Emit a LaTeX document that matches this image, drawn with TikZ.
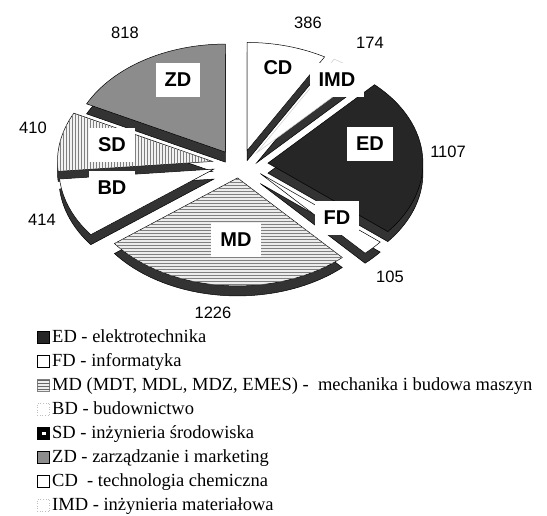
\documentclass[tikz,border=0pt]{standalone}
\usepackage{fontspec}
\setmainfont{Liberation Serif}
\newfontfamily\piefont{Liberation Sans}
\usetikzlibrary{calc,patterns}

\begin{document}
\begin{tikzpicture}[x=1pt, y=1pt,
	pie/.style={x radius=155, y radius=108},
	side/.style={fill=black!80, draw=black, line width=0.5pt},
	slice/.style={draw=black, line width=0.5pt},
	pielabel/.style={fill=white, inner xsep=9pt, minimum height=34pt, font=\piefont\bfseries\fontsize{20}{23}\selectfont},
	pienum/.style={inner sep=0pt, font=\piefont\fontsize{16.5}{19}\selectfont},
	lgbox/.style={draw=black, line width=0.9pt, minimum size=12.5pt, inner sep=0pt},
	lgtext/.style={anchor=base west, inner sep=0pt, font=\fontsize{18.5}{20}\selectfont}]
				\useasboundingbox (0,0) rectangle (547,516);
				\coordinate (c) at (240,352);
				\coordinate (aCD) at ($(c)+(75.03:28 and 14)$);
				\coordinate (aIMD) at ($(c)+(53.3:28 and 14)$);
				\coordinate (aED) at ($(c)+(3.6:28 and 14)$);
				\coordinate (aFD) at ($(c)+(-43.41:28 and 14)$);
				\coordinate (aMD) at ($(c)+(-95.04:28 and 14)$);
				\coordinate (aBD) at ($(c)+(-158.66:28 and 14)$);
				\coordinate (aSD) at ($(c)+(-190.62:28 and 14)$);
				\coordinate (aZD) at ($(c)+(-238.27:28 and 14)$);
				% CD
				\path[side] ([yshift=-10]aCD) -- +(90:155 and 108) arc[pie, start angle=90, end angle=60.05] -- cycle;
				\path[slice, fill=white] (aCD) -- +(90:155 and 108) arc[pie, start angle=90, end angle=60.05] -- cycle;
				% ZD
				\path[side] ([yshift=-10]aZD) -- +(153.47:155 and 108) arc[pie, start angle=153.47, end angle=90] -- cycle;
				\path[slice, fill=black!45] (aZD) -- +(153.47:155 and 108) arc[pie, start angle=153.47, end angle=90] -- cycle;
				% IMD
				\path[side] ([yshift=-10]aIMD) -- +(60.05:155 and 108) arc[pie, start angle=60.05, end angle=46.55] -- cycle;
				\path[slice, draw=gray!40, fill=white] (aIMD) -- +(60.05:155 and 108) arc[pie, start angle=60.05, end angle=46.55] -- cycle;
				% SD
				\path[side] ([yshift=-10]aSD) -- +(185.28:155 and 108) arc[pie, start angle=185.28, end angle=153.47] -- cycle;
				\path[slice, fill=gray!10, postaction={pattern=vertical lines, pattern color=gray}] (aSD) -- +(185.28:155 and 108) arc[pie, start angle=185.28, end angle=153.47] -- cycle;
				% ED
				\path[side] ([yshift=-10]aED) -- +(46.55:155 and 108) arc[pie, start angle=46.55, end angle=-39.34] -- cycle;
				\path[slice, fill=black!85] (aED) -- +(46.55:155 and 108) arc[pie, start angle=46.55, end angle=-39.34] -- cycle;
				% BD
				\path[side] ([yshift=-10]aBD) -- +(-142.6:155 and 108) arc[pie, start angle=-142.6, end angle=-174.72] -- cycle;
				\path[slice, fill=white] (aBD) -- +(-142.6:155 and 108) arc[pie, start angle=-142.6, end angle=-174.72] -- cycle;
				% FD
				\path[side] ([yshift=-10]aFD) -- +(-39.34:155 and 108) arc[pie, start angle=-39.34, end angle=-47.48] -- cycle;
				\path[slice, fill=white] (aFD) -- +(-39.34:155 and 108) arc[pie, start angle=-39.34, end angle=-47.48] -- cycle;
				% MD
				\path[side] ([yshift=-10]aMD) -- +(-47.48:155 and 108) arc[pie, start angle=-47.48, end angle=-142.6] -- cycle;
				\path[slice, fill=gray!15, postaction={pattern=horizontal lines, pattern color=gray}] (aMD) -- +(-47.48:155 and 108) arc[pie, start angle=-47.48, end angle=-142.6] -- cycle;
				% labels
				\node[pielabel] (ZD) at (178,436) {ZD};
				\node[pielabel] (SD) at (112,371) {SD};
				\node[pielabel] (BD) at (112,328) {BD};
				\node[pielabel] (MD) at (236,276) {MD};
				\node[pielabel] (ED) at (370,372) {ED};
				\node[pielabel] (FD) at (337,298) {FD};
				\node[pielabel] (CD) at (278,448) {CD};
				\node[pielabel] (IMD) at (337,436) {IMD};
				\node[pienum] (nZD) at (125,483) {818};
				\node[pienum] (nCD) at (308,493) {386};
				\node[pienum] (nIMD) at (370,473) {174};
				\node[pienum] (nED) at (448,364) {1107};
				\node[pienum] (nFD) at (390,239) {105};
				\node[pienum] (nMD) at (213,203) {1226};
				\node[pienum] (nBD) at (42,296) {414};
				\node[pienum] (nSD) at (33,388) {410};
				% legend
				\node[lgbox, fill=black!85] (sqED) at (43.5,178.7) {};
				\node[lgbox, fill=white] (sqFD) at (43.5,154.7) {};
				\node[lgbox, draw=gray, fill=gray!15, postaction={pattern=horizontal lines, pattern color=gray!80!black}] (sqMD) at (43.5,130.7) {};
				\node[lgbox, draw=gray!50, line width=0.6pt, dotted, fill=white] (sqBD) at (43.5,106.7) {};
				\node[lgbox, fill=black] (sqSD) at (43.5,82.7) {};
				\fill[white] ($(sqSD)+(-2,-1.5)$) rectangle ($(sqSD)+(2,1.5)$);
				\node[lgbox, fill=black!45] (sqZD) at (43.5,58.7) {};
				\node[lgbox, fill=white] (sqCD) at (43.5,34.7) {};
				\node[lgbox, draw=gray!50, line width=0.6pt, dotted, fill=white] (sqIMD) at (43.5,10.7) {};
				\node[lgtext] (lgED) at (52,173) {ED - elektrotechnika};
				\node[lgtext] (lgFD) at (52,149) {FD - informatyka};
				\node[lgtext] (lgMD) at (52,125) {MD (MDT, MDL, MDZ, EMES) -\ \ mechanika i budowa maszyn};
				\node[lgtext] (lgBD) at (52,101) {BD - budownictwo};
				\node[lgtext] (lgSD) at (52,77) {SD - inżynieria środowiska};
				\node[lgtext] (lgZD) at (52,53) {ZD - zarządzanie i marketing};
				\node[lgtext] (lgCD) at (52,29) {CD\ \ - technologia chemiczna};
				\node[lgtext] (lgIMD) at (52,5) {IMD - inżynieria materiałowa};
			\end{tikzpicture}
\end{document}
